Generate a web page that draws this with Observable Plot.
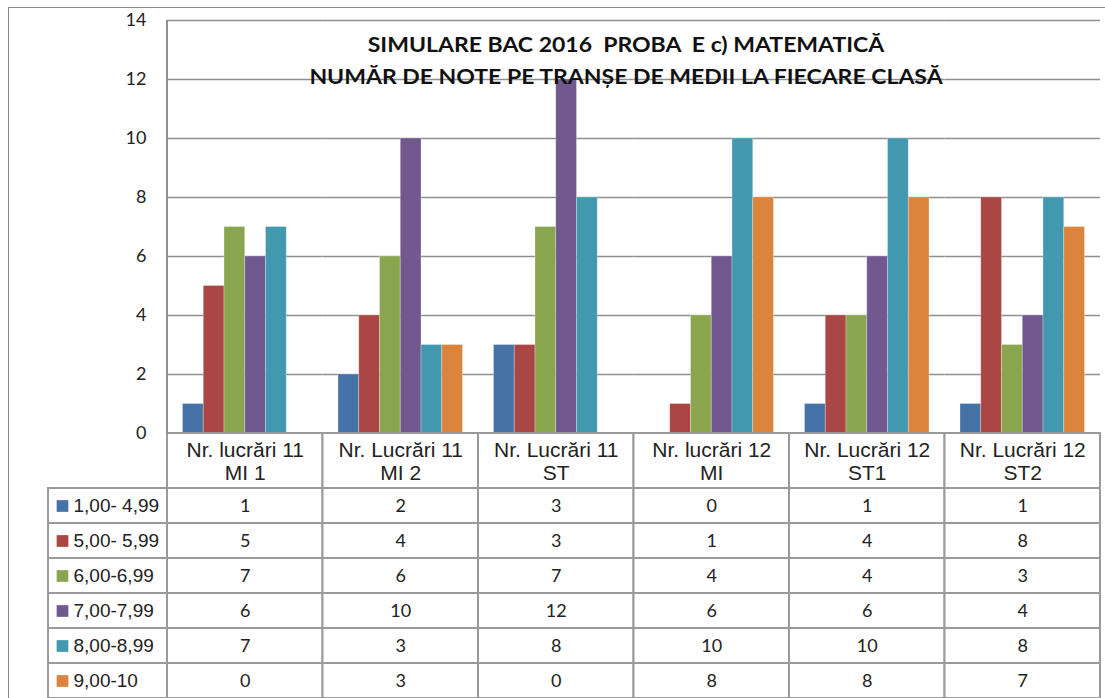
<!DOCTYPE html>
<html>
<head>
<meta charset="utf-8">
<script src="https://cdn.jsdelivr.net/npm/d3@7"></script>
<script src="https://cdn.jsdelivr.net/npm/@observablehq/plot@0.6"></script>
<style>
  html, body { margin: 0; padding: 0; background: white; }
  #wrap { position: relative; width: 1105px; height: 698px; overflow: hidden; background: white; }
  #wrap > .layer { position: absolute; left: 0; }
  #outer { position: absolute; left: 8px; top: 7px; width: 1300px; height: 900px; border: 1.5px solid #8c8c8c; box-sizing: border-box; }
  #axisline { position: absolute; left: 166px; top: 20px; width: 1.5px; height: 413px; background: #8f8f8f; }
  #title { position: absolute; top: 27.5px; left: 626px; transform: translateX(-50%) scaleX(1.15); white-space: pre; text-align: center;
           font-family: Lato, "Open Sans", sans-serif; font-weight: bold; font-size: 20px; line-height: 32px; color: #111; }
</style>
</head>
<body>
<div id="wrap">
  <div id="outer"></div>
  <div id="bars" class="layer" style="top:0"></div>
  <div id="table" class="layer" style="top:433px"></div>
  <div id="axisline"></div>
  <div id="title"></div>
</div>
<script>
// ---- data ----
const titleLines = ["SIMULARE BAC 2016  PROBA  E c) MATEMATICĂ", "NUMĂR DE NOTE PE TRANȘE DE MEDII LA FIECARE CLASĂ"];
const categories = ["Nr. lucrări 11\nMI 1", "Nr. Lucrări 11\nMI 2", "Nr. Lucrări 11\nST", "Nr. lucrări 12\nMI", "Nr. Lucrări 12\nST1", "Nr. Lucrări 12\nST2"];
const series = ["1,00- 4,99", "5,00- 5,99", "6,00-6,99", "7,00-7,99", "8,00-8,99", "9,00-10"];
const colors = ["#4572A7", "#AA4643", "#89A54E", "#71588F", "#4198AF", "#DB843D"];
const grade1to4 = [1, 2, 3, 0, 1, 1];
const grade5 = [5, 4, 3, 1, 4, 8];
const grade6 = [7, 6, 7, 4, 4, 3];
const grade7 = [6, 10, 12, 6, 6, 4];
const grade8 = [7, 3, 8, 10, 10, 8];
const grade9to10 = [0, 3, 0, 8, 8, 7];
const yTicks = [0, 2, 4, 6, 8, 10, 12, 14];

// ---- build ----
const valuesBySeries = [grade1to4, grade5, grade6, grade7, grade8, grade9to10];
const rows = categories.flatMap((c, j) => series.map((s, i) => ({cat: c, series: s, value: valuesBySeries[i][j], col: j, row: i})));

const titleEl = document.getElementById("title");
titleLines.forEach(t => { const d = document.createElement("div"); d.textContent = t; titleEl.appendChild(d); });

const bars = Plot.plot({
  width: 1105, height: 445,
  marginTop: 20, marginBottom: 12, marginLeft: 167, marginRight: 5,
  style: {background: "transparent", overflow: "visible", fontFamily: "Lato, sans-serif", fontSize: "18px", color: "#222"},
  facet: {data: rows, x: "cat"},
  fx: {domain: categories, padding: 0, round: false, axis: null, label: null},
  x: {domain: series, paddingInner: 0, paddingOuter: 0.747, round: false, axis: null},
  y: {domain: [0, 14], ticks: yTicks, tickSize: 0, tickPadding: 21, label: null},
  color: {domain: series, range: colors},
  marks: [
    Plot.ruleY(yTicks, {stroke: "#8f8f8f", strokeWidth: 1.5}),
    Plot.barY(rows, {x: "series", y: "value", fill: "series", stroke: "white", strokeOpacity: 0.35, strokeWidth: 0.8})
  ]
});
document.getElementById("bars").appendChild(bars);

const hdrTop = -55 / 35;
const legLeft = -119 / 155.5;
const table = Plot.plot({
  width: 1105, height: 265,
  marginTop: 0, marginBottom: 0, marginLeft: 48, marginRight: 5,
  style: {background: "transparent", overflow: "visible"},
  x: {domain: [legLeft, 6], axis: null},
  y: {domain: [hdrTop, 6], range: [0, 265], axis: null},
  color: {domain: series, range: colors},
  marks: [
    Plot.rect(categories, {x1: (d, j) => j, x2: (d, j) => j + 1, y1: hdrTop, y2: 0, fill: "white", stroke: "#9a9a9a", strokeWidth: 2}),
    Plot.rect(rows, {x1: "col", x2: d => d.col + 1, y1: "row", y2: d => d.row + 1, fill: "white", stroke: "#9a9a9a", strokeWidth: 2}),
    Plot.rect(series, {x1: legLeft, x2: 0, y1: (d, i) => i, y2: (d, i) => i + 1, fill: "white", stroke: "#9a9a9a", strokeWidth: 2}),
    Plot.text(categories, {x: (d, j) => j + 0.5, y: hdrTop / 2, text: d => d, fontFamily: "'Liberation Sans', Arial, sans-serif", fontSize: 21, lineHeight: 1.12, fill: "#222"}),
    Plot.text(rows, {x: d => d.col + 0.5, y: d => d.row + 0.5, text: "value", fontFamily: "Lato, sans-serif", fontSize: 18, fill: "#222"}),
    Plot.dot(series, {frameAnchor: "left", dx: 14, y: (d, i) => i + 0.5, symbol: "square", r: 6.6, fill: d => d}),
    Plot.text(series, {frameAnchor: "left", dx: 25, y: (d, i) => i + 0.5, text: d => d, textAnchor: "start", fontFamily: "'Liberation Sans', Arial, sans-serif", fontSize: 19, fill: "#222"})
  ]
});
document.getElementById("table").appendChild(table);
</script>
</body>
</html>
